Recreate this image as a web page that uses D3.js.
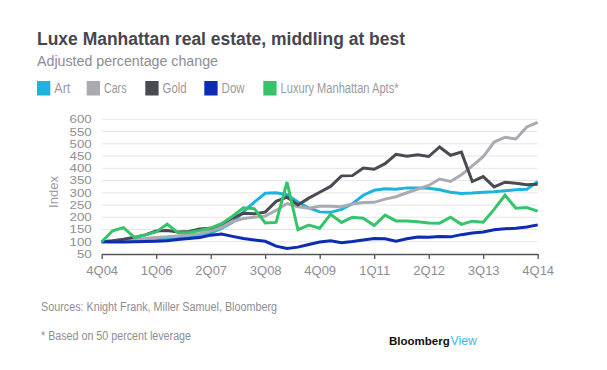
<!DOCTYPE html>
<html><head><meta charset="utf-8">
<script src="https://cdn.jsdelivr.net/npm/d3@7"></script>
<style>
html,body{margin:0;padding:0;background:#fff;}
svg{display:block;font-family:"Liberation Sans",Arial,sans-serif;}
</style></head>
<body>
<script>
const quarters = ["4Q04","1Q05","2Q05","3Q05","4Q05","1Q06","2Q06","3Q06","4Q06","1Q07","2Q07","3Q07","4Q07","1Q08","2Q08","3Q08","4Q08","1Q09","2Q09","3Q09","4Q09","1Q10","2Q10","3Q10","4Q10","1Q11","2Q11","3Q11","4Q11","1Q12","2Q12","3Q12","4Q12","1Q13","2Q13","3Q13","4Q13","1Q14","2Q14","3Q14","4Q14"];
const tickLabels = ["4Q04","1Q06","2Q07","3Q08","4Q09","1Q11","2Q12","3Q13","4Q14"];
const yTicks = [50,100,150,200,250,300,350,400,450,500,550,600];
const seriesNames = ["Art","Cars","Gold","Dow","Luxury Manhattan Apts*"];
const art  = [100,101,102,104,106,108,110,113,117,124,135,155,180,222,262,298,300,292,262,238,222,220,232,255,290,310,316,314,320,320,318,312,302,297,299,302,304,308,312,314,346];
const cars = [100,103,107,110,113,117,120,124,128,133,145,158,182,195,200,205,228,256,243,237,245,245,243,254,260,261,274,284,300,315,330,356,346,373,410,447,507,527,520,569,587];
const gold = [100,104,110,118,128,144,146,140,142,152,155,172,197,216,214,221,265,282,250,278,302,326,369,370,401,396,419,457,449,455,448,487,453,466,346,366,324,343,339,333,335];
const dow  = [100,99,99,100,101,102,104,109,113,117,127,132,122,113,107,102,82,73,78,89,99,104,96,101,107,113,112,102,112,119,118,121,120,129,136,140,149,153,155,160,169];
const lux  = [100,145,158,118,128,140,172,137,138,146,156,174,204,239,235,177,179,344,149,168,155,212,179,200,196,166,209,185,185,182,177,176,200,171,184,180,232,290,237,240,225];
const colors = ["#1cb3df","#aaaab2","#4a4a53","#0c2db3","#35c46a"];
const values = [art,cars,gold,dow,lux];

const W=607,H=370;
const svg=d3.select("body").append("svg").attr("width",W).attr("height",H);

const x=d3.scalePoint().domain(quarters).range([101.7,537.7]);
const y=d3.scaleLinear().domain([50,600]).range([254,119.3]);

function fitText(sel,w){sel.attr("textLength",w).attr("lengthAdjust","spacingAndGlyphs");}

// Title
svg.append("text").attr("x",37).attr("y",45).attr("font-size",18).attr("font-weight","bold").attr("fill","#46464e").text("Luxe Manhattan real estate, middling at best").call(fitText,368);
svg.append("text").attr("x",37).attr("y",65.5).attr("font-size",15).attr("fill","#8c8c93").text("Adjusted percentage change").call(fitText,181);

// Legend
const legX=[37,86.7,145.3,204.3,263.3];
const legW=[16,22.5,24,23,118];
seriesNames.forEach((n,i)=>{
  svg.append("rect").attr("x",legX[i]).attr("y",81).attr("width",13.3).attr("height",14.5).attr("fill",colors[i]);
  svg.append("text").attr("x",legX[i]+17.3).attr("y",92.5).attr("font-size",14).attr("fill","#9a9aa0").text(n).call(fitText,legW[i]);
});

// gridlines
svg.append("g").selectAll("line").data(yTicks.filter(d=>d>50)).join("line")
  .attr("x1",101.7).attr("x2",537.7).attr("y1",d=>y(d)).attr("y2",d=>y(d))
  .attr("stroke","#e6e6e8").attr("stroke-width",1);

// y axis labels
const yAxis=svg.append("g").attr("transform","translate(101.7,0)")
  .call(d3.axisLeft(y).tickValues(yTicks).tickSize(0).tickPadding(10));
yAxis.select(".domain").remove();
yAxis.selectAll("text").attr("font-size",10.8).attr("fill","#8e8e95").attr("font-family","Liberation Sans, Arial, sans-serif")
  .each(function(d){ d3.select(this).attr("textLength", String(d).length*7.4).attr("lengthAdjust","spacingAndGlyphs"); });

svg.append("text").attr("transform","translate(58,192) rotate(-90)").attr("text-anchor","middle")
  .attr("font-size",13).attr("fill","#9a9aa0").text("Index");

// x axis
const xAxis=svg.append("g").attr("transform","translate(0,254)")
  .call(d3.axisBottom(x).tickValues(tickLabels).tickSize(5).tickSizeOuter(0).tickPadding(7));
xAxis.select(".domain").attr("stroke","#555").attr("stroke-width",1.3);
xAxis.selectAll(".tick line").attr("stroke","#555").attr("stroke-width",1.3);
xAxis.selectAll("text").attr("font-size",13).attr("fill","#8e8e95").attr("font-family","Liberation Sans, Arial, sans-serif");

// lines
const line=d3.line().x((d,i)=>x(quarters[i])).y(d=>y(d));
values.forEach((v,i)=>{
  svg.append("path").datum(v).attr("d",line).attr("fill","none")
    .attr("stroke",colors[i]).attr("stroke-width",3).attr("stroke-linejoin","miter");
});

// footer
svg.append("text").attr("x",41).attr("y",311).attr("font-size",12).attr("fill","#8e8e95").text("Sources: Knight Frank, Miller Samuel, Bloomberg").call(fitText,236);
svg.append("text").attr("x",41).attr("y",340).attr("font-size",12).attr("fill","#8e8e95").text("* Based on 50 percent leverage").call(fitText,150);
svg.append("text").attr("x",389).attr("y",345).attr("font-size",11.5).attr("font-weight","bold").attr("fill","#111").text("Bloomberg");
svg.append("text").attr("x",450.5).attr("y",345).attr("font-size",12.3).attr("fill","#3ab9e6").text("View");
</script>
</body></html>
